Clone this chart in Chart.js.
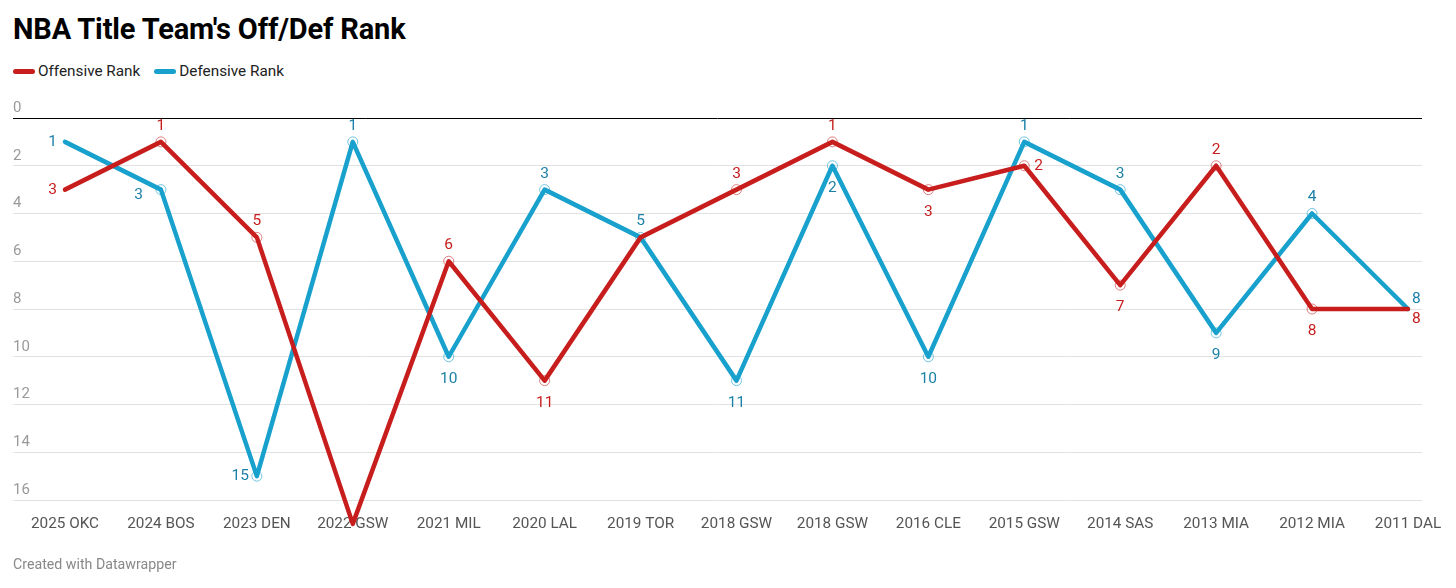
<!DOCTYPE html>
<html>
<head>
<meta charset="utf-8">
<script src="https://cdn.jsdelivr.net/npm/chart.js@4.4.1/dist/chart.umd.min.js"></script>
<style>
  html, body { margin: 0; padding: 0; background: #fff; }
  body { width: 1456px; height: 588px; position: relative; overflow: hidden; font-family: Roboto, sans-serif; }
  #title { position: absolute; left: 13px; top: 12px; font-size: 29px; font-weight: 700; color: #000; letter-spacing: -0.15px; }
  #legend { position: absolute; left: 13px; top: 62px; font-size: 15.3px; color: #222; display: flex; }
  .item { display: flex; align-items: center; margin-right: 14px; }
  .swatch { width: 22px; height: 5px; border-radius: 3px; margin-right: 3px; }
  #footer { position: absolute; left: 13px; top: 556px; font-size: 14.2px; color: #888; }
  #wrap { position: absolute; left: 0; top: 0; width: 1456px; height: 588px; }
</style>
</head>
<body>
<div id="title">NBA Title Team's Off/Def Rank</div>
<div id="legend">
  <div class="item"><span class="swatch" style="background:#c71e1d"></span>Offensive Rank</div>
  <div class="item"><span class="swatch" style="background:#18a1cd"></span>Defensive Rank</div>
</div>
<div id="wrap"><canvas id="rankChart"></canvas></div>
<div id="footer">Created with Datawrapper</div>
<script>
// teams, newest title first
var teams = ['2025 OKC', '2024 BOS', '2023 DEN', '2022 GSW', '2021 MIL', '2020 LAL', '2019 TOR', '2018 GSW',
             '2018 GSW', '2016 CLE', '2015 GSW', '2014 SAS', '2013 MIA', '2012 MIA', '2011 DAL'];
var offRank = [3, 1, 5, 17, 6, 11, 5, 3, 1, 3, 2, 7, 2, 8, 8];
var defRank = [1, 3, 15, 1, 10, 3, 5, 11, 2, 10, 1, 3, 9, 4, 8];
var yTicks = [0, 2, 4, 6, 8, 10, 12, 14, 16];

// where each value label sits: t=top, b=bottom, l=left, r=right, n=none
var offLabelPos = ['l', 't', 't', 'n', 't', 'b', 'n', 't', 't', 'b', 'r', 'b', 't', 'b', 'rb'];
var defLabelPos = ['l', 'lb', 'l', 't', 'b', 't', 't', 'b', 'b', 'b', 't', 't', 'b', 't', 'rt'];

var RED = '#c71e1d', BLUE = '#18a1cd';
var RED_TXT = '#c71e1d', BLUE_TXT = '#1b81a8';

function ringRadius(pos) {
    return function (ctx) {
        var i = ctx.dataIndex;
        if (i === 0 || i === teams.length - 1) return 0;
        return pos[i] === 'n' ? 0 : 5;
    };
}

var valueLabels = {
    id: 'valueLabels',
    afterDatasetsDraw: function (chart) {
        var c = chart.ctx;
        var cfg = [[offRank, offLabelPos, RED_TXT], [defRank, defLabelPos, BLUE_TXT]];
        c.save();
        c.font = '15.5px Roboto, sans-serif';
        cfg.forEach(function (s, d) {
            var meta = chart.getDatasetMeta(d);
            meta.data.forEach(function (pt, i) {
                var p = s[1][i];
                if (p === 'n') return;
                var x = pt.x, y = pt.y;
                c.fillStyle = s[2];
                c.textBaseline = 'middle';
                c.textAlign = 'center';
                if (p === 't') { y -= 16; }
                else if (p === 'b') { y += 22; }
                else if (p === 'l') { c.textAlign = 'right'; x -= 8; }
                else if (p === 'lb') { c.textAlign = 'right'; x -= 18; y += 5; }
                else if (p === 'r') { c.textAlign = 'left'; x += 10; }
                else if (p === 'rt') { c.textAlign = 'left'; x += 4; y -= 10; }
                else if (p === 'rb') { c.textAlign = 'left'; x += 4; y += 10; }
                c.fillText(String(s[0][i]), x, y);
            });
        });
        c.restore();
    }
};

var ctxRank = document.getElementById('rankChart').getContext('2d');
new Chart(ctxRank, {
    type: 'line',
    data: {
        datasets: [
            {
                label: 'Offensive Rank',
                data: offRank.map(function (v, i) { return { x: i, y: v }; }),
                borderColor: RED,
                borderWidth: 4.5,
                borderJoinStyle: 'round',
                borderCapStyle: 'round',
                pointRadius: ringRadius(offLabelPos),
                pointBorderWidth: 1,
                pointBorderColor: 'rgba(199,30,29,0.55)',
                pointBackgroundColor: 'rgba(255,255,255,0)',
                tension: 0,
                clip: false
            },
            {
                label: 'Defensive Rank',
                data: defRank.map(function (v, i) { return { x: i, y: v }; }),
                borderColor: BLUE,
                borderWidth: 4.5,
                borderJoinStyle: 'round',
                borderCapStyle: 'round',
                pointRadius: ringRadius(defLabelPos),
                pointBorderWidth: 1,
                pointBorderColor: 'rgba(24,161,205,0.6)',
                pointBackgroundColor: 'rgba(255,255,255,0)',
                tension: 0,
                clip: false
            }
        ]
    },
    options: {
        responsive: true,
        maintainAspectRatio: false,
        animation: false,
        layout: { padding: { left: 13, right: 34, top: 118, bottom: 0 } },
        plugins: {
            legend: { display: false },
            tooltip: { enabled: false }
        },
        scales: {
            x: {
                type: 'linear',
                min: -0.542,
                max: 14.146,
                afterBuildTicks: function (s) {
                    s.ticks = teams.map(function (t, i) { return { value: i }; });
                },
                afterFit: function (s) { s.height = 88; },
                grid: { display: false },
                border: { display: false },
                ticks: {
                    autoSkip: false,
                    maxRotation: 0,
                    padding: 7,
                    color: '#555',
                    font: { family: 'Roboto', size: 15.3 },
                    callback: function (v) { return teams[v]; }
                }
            },
            y: {
                reverse: true,
                min: 0,
                max: 16,
                afterBuildTicks: function (s) {
                    s.ticks = yTicks.map(function (v) { return { value: v }; });
                },
                afterFit: function (s) { s.width = 0; },
                border: { display: false },
                grid: {
                    drawTicks: false,
                    color: function (c) { return c.tick && c.tick.value === 0 ? '#000' : '#e1e1e1'; },
                    lineWidth: 1
                },
                ticks: {
                    mirror: true,
                    padding: 0,
                    labelOffset: -10,
                    color: '#9a9a9a',
                    font: { family: 'Roboto', size: 15 }
                }
            }
        }
    },
    plugins: [valueLabels]
});
</script>
</body>
</html>
